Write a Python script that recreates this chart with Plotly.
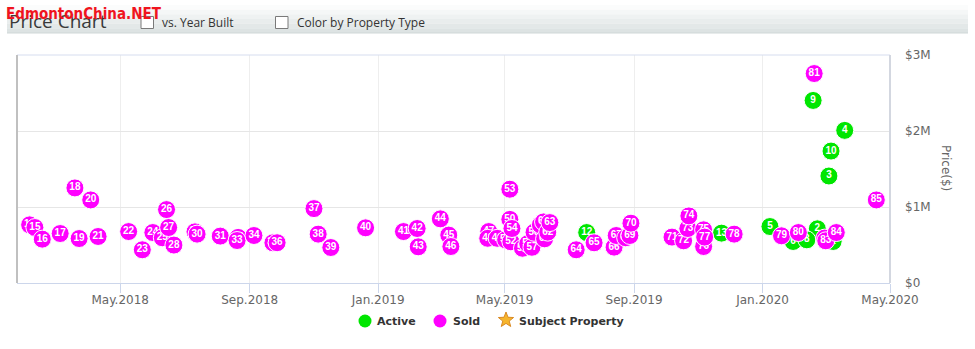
import math
import plotly.graph_objects as go

# Listings plotted on the price chart
active_labels = ["1", "2", "3", "4", "5", "6", "8", "9", "10", "12", "13"]
active_dates = ["2020-03-08", "2020-02-22", "2020-03-04", "2020-03-19", "2020-01-08",
                "2020-01-30", "2020-02-12", "2020-02-18", "2020-03-06", "2019-07-18",
                "2019-11-23"]
active_prices = [546000, 713000, 1408000, 2008000, 743000, 546000, 568000, 2402000,
                 1736000, 664000, 656000]

sold_labels = [str(n) for n in range(14, 86)]
sold_dates = ["2018-02-04", "2018-02-09", "2018-02-16", "2018-03-05", "2018-03-19",
              "2018-03-23", "2018-04-03", "2018-04-10", "2018-05-09", "2018-05-22",
              "2018-06-01", "2018-06-10", "2018-06-14", "2018-06-16", "2018-06-21",
              "2018-07-11", "2018-07-13", "2018-08-04", "2018-08-21", "2018-08-20",
              "2018-09-05", "2018-09-23", "2018-09-27", "2018-11-01", "2018-11-05",
              "2018-11-17", "2018-12-20", "2019-01-25", "2019-02-07", "2019-02-08",
              "2019-03-01", "2019-03-09", "2019-03-11", "2019-04-16", "2019-04-15",
              "2019-04-24", "2019-05-06", "2019-05-02", "2019-05-07", "2019-05-06",
              "2019-05-08", "2019-05-18", "2019-05-23", "2019-05-27", "2019-05-29",
              "2019-06-04", "2019-06-07", "2019-06-08", "2019-06-11", "2019-06-13",
              "2019-07-08", "2019-07-25", "2019-08-13", "2019-08-15", "2019-08-24",
              "2019-08-28", "2019-08-29", "2019-10-07", "2019-10-18", "2019-10-22",
              "2019-10-23", "2019-11-06", "2019-11-06", "2019-11-07", "2019-12-05",
              "2020-01-19", "2020-02-04", "2020-02-19", "2020-02-29", "2020-03-01",
              "2020-03-11", "2020-04-18"]
sold_prices = [765000, 730000, 577000, 651000, 1251000, 585000, 1093000, 612000, 677000,
               437000, 664000, 595000, 966000, 730000, 499000, 673000, 643000, 617000,
               600000, 559000, 625000, 529000, 530000, 979000, 643000, 467000, 726000,
               677000, 717000, 476000, 844000, 630000, 480000, 677000, 588000, 588000,
               837000, 568000, 542000, 1234000, 717000, 457000, 516000, 470000, 667000,
               765000, 804000, 581000, 669000, 795000, 437000, 529000, 472000, 625000,
               595000, 625000, 787000, 604000, 555000, 717000, 883000, 700000, 480000,
               604000, 643000, 621000, 664000, 2756000, 591000, 555000, 664000, 1093000]

tick_dates = ["2018-05-01", "2018-09-01", "2019-01-01", "2019-05-01",
              "2019-09-01", "2020-01-01", "2020-05-01"]
tick_text = ["May.2018", "Sep.2018", "Jan.2019", "May.2019",
             "Sep.2019", "Jan.2020", "May.2020"]
price_ticks = [0, 1000000, 2000000, 3000000]
price_text = ["$0", "$1M", "$2M", "$3M"]

legend_names = ["Active", "Sold", "Subject Property"]

ACTIVE = "#00e600"
SOLD = "#ff00ff"
STAR = "#f6b52c"

# plot area in pixels
L, R, T, B = 17, 890, 55, 283
W, H = R - L, B - T


def fx(px):
    return (px - L) / W


def fy(py):
    return (B - py) / H


fig = go.Figure()


def add_point(d, p, lab, color):
    fig.add_trace(go.Scatter(
        x=[d], y=[p], mode="markers+text", text=[lab],
        textposition="middle center",
        marker=dict(size=18, color=color, line=dict(color="white", width=1)),
        textfont=dict(color="white", size=10, family="Liberation Sans", weight="bold"),
        showlegend=False, hoverinfo="skip", cliponaxis=False))


# active listings sit underneath the sold ones
for d, p, lab in zip(active_dates, active_prices, active_labels):
    add_point(d, p, lab, ACTIVE)
for d, p, lab in zip(sold_dates, sold_prices, sold_labels):
    add_point(d, p, lab, SOLD)

shapes = []
# header bar with soft vertical gradient
bands = ["#fbfcfc", "#f5f7f7", "#eff2f2", "#e9eded", "#e3e8e8", "#dde3e3"]
top, bottom = 5, 33
step = (bottom - top) / len(bands)
for i, c in enumerate(bands):
    shapes.append(dict(type="rect", xref="paper", yref="paper",
                       x0=fx(7), x1=fx(968), y0=fy(top + (i + 1) * step), y1=fy(top + i * step),
                       fillcolor=c, line=dict(width=0), layer="below"))
shapes.append(dict(type="line", xref="paper", yref="paper", x0=fx(7), x1=fx(968),
                   y0=fy(33), y1=fy(33), line=dict(color="#cfd7d7", width=1)))
# checkboxes
for x0, x1 in [(141, 153.5), (275.5, 288)]:
    shapes.append(dict(type="rect", xref="paper", yref="paper", x0=fx(x0), x1=fx(x1),
                       y0=fy(28.5), y1=fy(16.5), fillcolor="white",
                       line=dict(color="#7a7a7a", width=1)))
# plot frame
shapes.append(dict(type="line", xref="paper", yref="paper", x0=0, x1=1, y0=1, y1=1,
                   line=dict(color="#d6ddef", width=1)))
shapes.append(dict(type="line", xref="paper", yref="paper", x0=1, x1=1, y0=0, y1=1,
                   line=dict(color="#d3d7e0", width=2)))
shapes.append(dict(type="line", xref="paper", yref="paper", x0=0, x1=0, y0=0, y1=1,
                   line=dict(color="#c0c0c0", width=2)))

# legend glyphs
LEG_Y = 321
r = 6.5
for cx, col in [(365, ACTIVE), (440, SOLD)]:
    shapes.append(dict(type="circle", xref="paper", yref="paper",
                       x0=fx(cx - r), x1=fx(cx + r), y0=fy(LEG_Y + r), y1=fy(LEG_Y - r),
                       fillcolor=col, line=dict(width=0)))
sx, sy, ro, ri = 506, LEG_Y - 1, 8, 3.4
pts = []
for k in range(10):
    rad = ro if k % 2 == 0 else ri
    ang = -math.pi / 2 + k * math.pi / 5
    pts.append((fx(sx + rad * math.cos(ang)), fy(sy + rad * math.sin(ang))))
star_path = "M " + " L ".join(f"{a:.5f},{b:.5f}" for a, b in pts) + " Z"
shapes.append(dict(type="path", xref="paper", yref="paper", path=star_path,
                   fillcolor=STAR, line=dict(color="#d98a24", width=1)))

annotations = [
    dict(text="Price Chart", x=fx(7), y=fy(21), xref="paper", yref="paper",
         xanchor="left", yanchor="middle", showarrow=False,
         font=dict(family="Open Sans", size=19, color="#3a3a3a")),
    dict(text="<b>EdmontonChina.NET</b>", x=fx(4), y=fy(14), xref="paper", yref="paper",
         xanchor="left", yanchor="middle", showarrow=False,
         font=dict(family="DejaVu Sans Condensed, sans-serif", size=15, color="#f0141e")),
    dict(text="vs. Year Built", x=fx(160), y=fy(22), xref="paper", yref="paper",
         xanchor="left", yanchor="middle", showarrow=False,
         font=dict(family="Open Sans", size=12, color="#333333")),
    dict(text="Color by Property Type", x=fx(295), y=fy(22), xref="paper", yref="paper",
         xanchor="left", yanchor="middle", showarrow=False,
         font=dict(family="Open Sans", size=12, color="#333333")),
    dict(text="Price($)", x=fx(946), y=fy(168), xref="paper", yref="paper",
         xanchor="center", yanchor="middle", showarrow=False, textangle=90,
         font=dict(family="DejaVu Sans", size=12, color="#666666")),
]
for name, tx in zip(legend_names, [375, 451, 517]):
    annotations.append(dict(text=f"<b>{name}</b>", x=fx(tx), y=fy(LEG_Y), xref="paper",
                            yref="paper", xanchor="left", yanchor="middle", showarrow=False,
                            font=dict(family="DejaVu Sans", size=11, color="#333333")))

fig.update_layout(
    width=975, height=349,
    margin=dict(l=L, r=975 - R, t=T, b=349 - B, autoexpand=False),
    paper_bgcolor="white", plot_bgcolor="white",
    shapes=shapes, annotations=annotations,
    showlegend=False,
    xaxis=dict(type="date", range=["2018-01-23", "2020-05-01"],
               tickvals=tick_dates, ticktext=tick_text,
               showgrid=True, gridcolor="#eeeeee", gridwidth=1,
               ticks="outside", ticklen=9, tickcolor="#ccd6eb",
               showline=True, linecolor="#ccd6eb", linewidth=1,
               zeroline=False, automargin=False, ticklabelstandoff=-3,
               tickfont=dict(family="DejaVu Sans", size=12, color="#666666")),
    yaxis=dict(range=[0, 3000000], side="right",
               tickvals=price_ticks, ticktext=price_text,
               showgrid=True, gridcolor="#e6e6e6", gridwidth=1,
               zeroline=False, showline=False, ticks="", automargin=False,
               ticklabelstandoff=14,
               tickfont=dict(family="DejaVu Sans", size=12, color="#666666")),
)

fig.write_html("out.html")
